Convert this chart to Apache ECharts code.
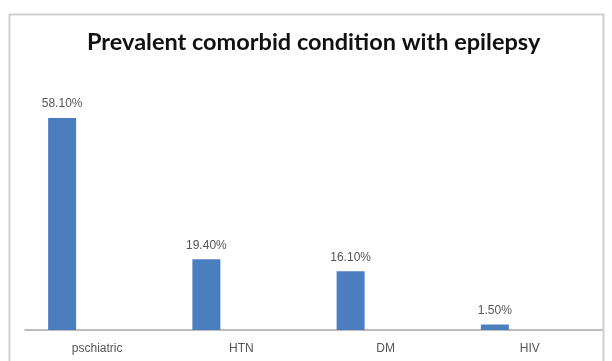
<!DOCTYPE html>
<html>
<head>
<meta charset="utf-8">
<script src="https://cdn.jsdelivr.net/npm/echarts@6/dist/echarts.min.js"></script>
<style>
  html, body { margin: 0; padding: 0; background: #fff; }
  #chart { width: 612px; height: 361px; }
</style>
</head>
<body>
<div id="chart"></div>
<script>
// Share of patients with each comorbid condition (percent)
const categories = ['pschiatric', 'HTN', 'DM', 'HIV'];
const prevalence = [58.1, 19.4, 16.1, 1.5];
const titleText = 'Prevalent comorbid condition with epilepsy';

const chart = echarts.init(document.getElementById('chart'), null, { renderer: 'canvas' });

chart.setOption({
  backgroundColor: '#ffffff',
  animation: false,
  title: {
    text: titleText,
    left: 82,
    top: 25,
    textStyle: {
      fontFamily: 'Lato',
      fontWeight: 'bold',
      fontSize: 23.5,
      color: '#111111'
    }
  },
  graphic: [{
    type: 'rect',
    shape: { x: 9.5, y: 14.5, width: 594, height: 360 },
    style: { fill: 'none', stroke: '#cfcfcf', lineWidth: 2 },
    silent: true,
    z: -1
  }],
  grid: { left: 25, right: 10, top: 111, bottom: 31 },
  xAxis: {
    type: 'category',
    data: categories,
    axisLine: { lineStyle: { color: '#a6a6a6', width: 1.5 } },
    axisTick: { show: false },
    axisLabel: {
      color: '#555',
      fontFamily: 'Liberation Sans',
      fontSize: 12,
      margin: 13
    }
  },
  yAxis: {
    type: 'value',
    min: 0,
    max: 60,
    show: false,
    splitLine: { show: false }
  },
  series: [
    {
      type: 'bar',
      data: prevalence,
      barWidth: 28,
      barGap: '150%',
      itemStyle: { color: '#4a7ebf' },
      label: {
        show: true,
        position: 'top',
        distance: 8,
        color: '#555',
        fontFamily: 'Liberation Sans',
        fontSize: 12,
        formatter: p => p.value.toFixed(2) + '%'
      }
    },
    {
      // empty companion series keeps each bar on the left of its slot
      type: 'bar',
      data: categories.map(() => null),
      barWidth: 28,
      silent: true
    }
  ]
});
</script>
</body>
</html>
